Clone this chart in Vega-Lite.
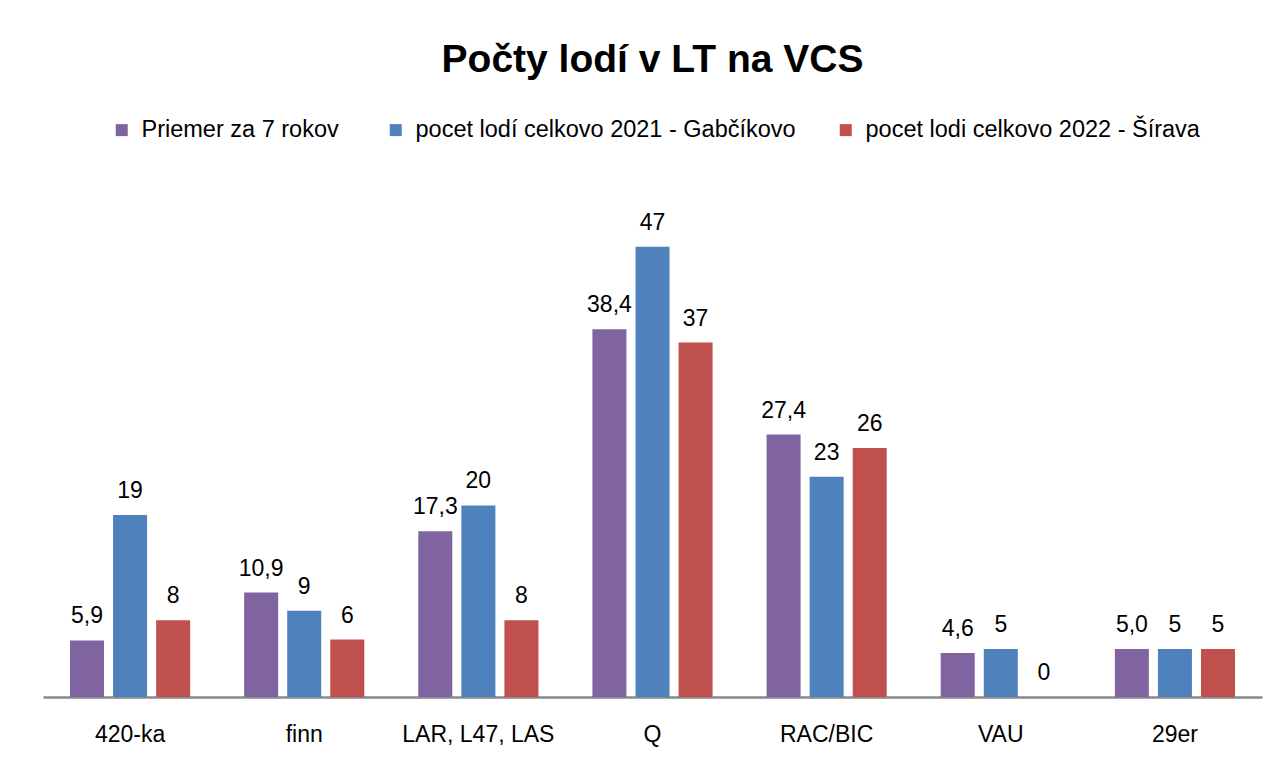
{
  "$schema": "https://vega.github.io/schema/vega-lite/v6.json",
  "width": 1219,
  "height": 479,
  "autosize": {"type": "none"},
  "padding": {"left": 43, "top": 218, "right": 8, "bottom": 79},
  "background": "white",
  "config": {
    "view": {"stroke": null},
    "font": "Liberation Sans"
  },
  "title": {
    "text": "Počty lodí v LT na VCS",
    "font": "Liberation Sans",
    "fontSize": 39,
    "fontWeight": "bold",
    "color": "#000000",
    "anchor": "middle",
    "frame": "group",
    "baseline": "alphabetic",
    "offset": 7
  },
  "data": {
    "values": [
      {"trieda": "420-ka", "seria": "Priemer za  7 rokov", "pocet": 5.9, "popis": "5,9"},
      {"trieda": "420-ka", "seria": "pocet lodí celkovo 2021 - Gabčíkovo", "pocet": 19, "popis": "19"},
      {"trieda": "420-ka", "seria": "pocet lodi celkovo 2022 - Šírava", "pocet": 8, "popis": "8"},
      {"trieda": "finn", "seria": "Priemer za  7 rokov", "pocet": 10.9, "popis": "10,9"},
      {"trieda": "finn", "seria": "pocet lodí celkovo 2021 - Gabčíkovo", "pocet": 9, "popis": "9"},
      {"trieda": "finn", "seria": "pocet lodi celkovo 2022 - Šírava", "pocet": 6, "popis": "6"},
      {"trieda": "LAR, L47, LAS", "seria": "Priemer za  7 rokov", "pocet": 17.3, "popis": "17,3"},
      {"trieda": "LAR, L47, LAS", "seria": "pocet lodí celkovo 2021 - Gabčíkovo", "pocet": 20, "popis": "20"},
      {"trieda": "LAR, L47, LAS", "seria": "pocet lodi celkovo 2022 - Šírava", "pocet": 8, "popis": "8"},
      {"trieda": "Q", "seria": "Priemer za  7 rokov", "pocet": 38.4, "popis": "38,4"},
      {"trieda": "Q", "seria": "pocet lodí celkovo 2021 - Gabčíkovo", "pocet": 47, "popis": "47"},
      {"trieda": "Q", "seria": "pocet lodi celkovo 2022 - Šírava", "pocet": 37, "popis": "37"},
      {"trieda": "RAC/BIC", "seria": "Priemer za  7 rokov", "pocet": 27.4, "popis": "27,4"},
      {"trieda": "RAC/BIC", "seria": "pocet lodí celkovo 2021 - Gabčíkovo", "pocet": 23, "popis": "23"},
      {"trieda": "RAC/BIC", "seria": "pocet lodi celkovo 2022 - Šírava", "pocet": 26, "popis": "26"},
      {"trieda": "VAU", "seria": "Priemer za  7 rokov", "pocet": 4.6, "popis": "4,6"},
      {"trieda": "VAU", "seria": "pocet lodí celkovo 2021 - Gabčíkovo", "pocet": 5, "popis": "5"},
      {"trieda": "VAU", "seria": "pocet lodi celkovo 2022 - Šírava", "pocet": 0, "popis": "0"},
      {"trieda": "29er", "seria": "Priemer za  7 rokov", "pocet": 5.0, "popis": "5,0"},
      {"trieda": "29er", "seria": "pocet lodí celkovo 2021 - Gabčíkovo", "pocet": 5, "popis": "5"},
      {"trieda": "29er", "seria": "pocet lodi celkovo 2022 - Šírava", "pocet": 5, "popis": "5"}
    ]
  },
  "encoding": {
    "x": {
      "field": "trieda",
      "type": "nominal",
      "sort": null,
      "scale": {"paddingInner": 0.31, "paddingOuter": 0.155},
      "axis": {
        "title": null,
        "labelAngle": 0,
        "ticks": false,
        "labelPadding": 26,
        "labelFontSize": 23,
        "labelColor": "#000000",
        "labelFont": "Liberation Sans",
        "domainColor": "#898989",
        "domainWidth": 2.5
      }
    },
    "xOffset": {
      "field": "seria",
      "type": "nominal",
      "sort": ["Priemer za  7 rokov", "pocet lodí celkovo 2021 - Gabčíkovo", "pocet lodi celkovo 2022 - Šírava"],
      "scale": {"paddingInner": 0.21, "paddingOuter": 0}
    },
    "y": {
      "field": "pocet",
      "type": "quantitative",
      "scale": {"domain": [0, 50], "nice": false},
      "axis": null
    }
  },
  "layer": [
    {
      "mark": {"type": "bar"},
      "encoding": {
        "color": {
          "field": "seria",
          "type": "nominal",
          "scale": {
            "domain": ["Priemer za  7 rokov", "pocet lodí celkovo 2021 - Gabčíkovo", "pocet lodi celkovo 2022 - Šírava"],
            "range": ["#8064A2", "#4F81BD", "#C0504D"]
          },
          "legend": {
            "title": null,
            "orient": "none",
            "direction": "horizontal",
            "legendX": 67,
            "legendY": -100,
            "symbolType": "square",
            "symbolSize": 144,
            "symbolStrokeWidth": 0,
            "labelFontSize": 23.5,
            "labelFont": "Liberation Sans",
            "labelColor": "#000000",
            "labelOffset": 8,
            "columnPadding": 38,
            "padding": 0,
            "labelLimit": 600
          }
        }
      }
    },
    {
      "mark": {"type": "text", "baseline": "alphabetic", "dy": -17, "fontSize": 23, "font": "Liberation Sans", "color": "#000000"},
      "encoding": {
        "text": {"field": "popis", "type": "nominal"}
      }
    }
  ]
}
